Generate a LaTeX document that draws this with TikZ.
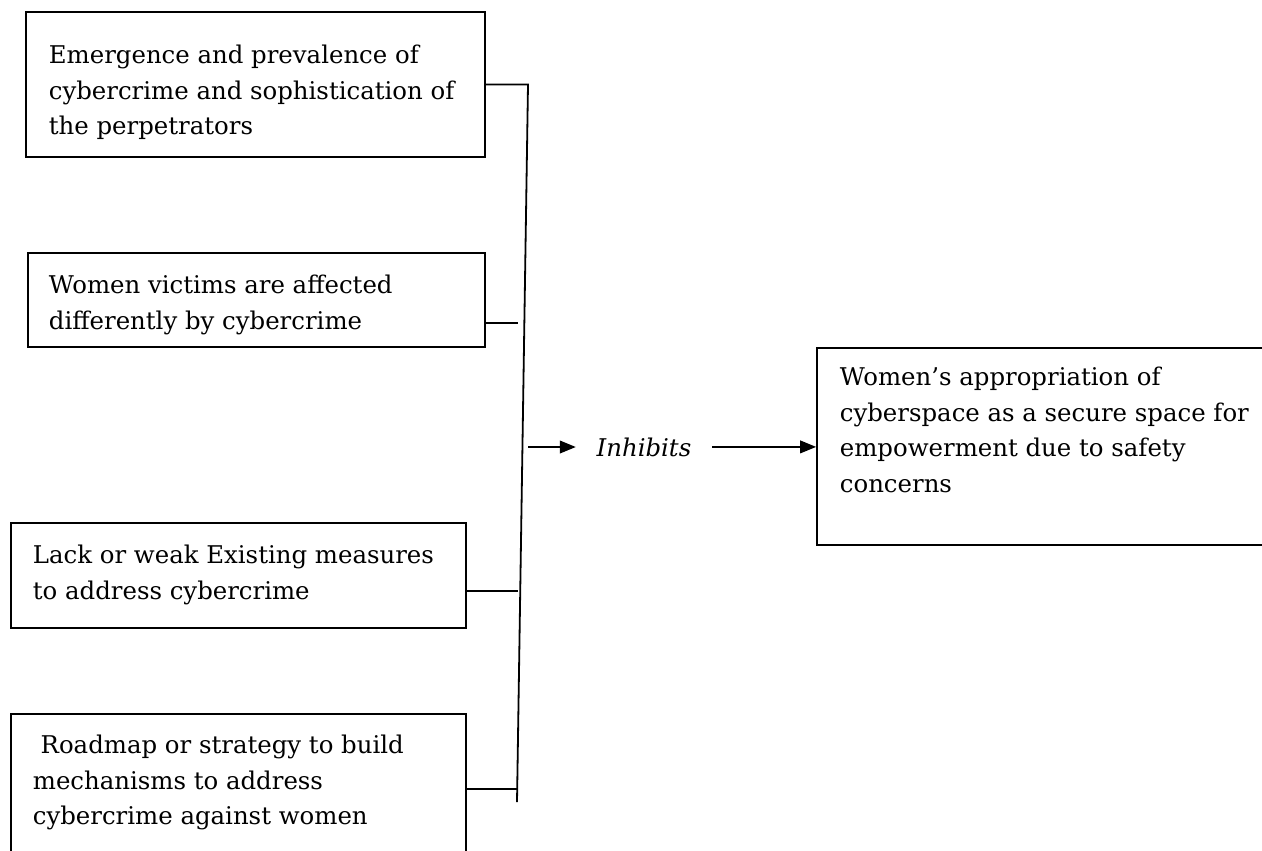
\documentclass[tikz,border=0pt]{standalone}
\usepackage{fontspec}
\setmainfont{DejaVu Serif}
\usetikzlibrary{arrows.meta}
\begin{document}
\begin{tikzpicture}[x=0.75pt,y=-0.75pt,
  line width=1.35pt,
  box/.style={draw, rectangle, inner sep=0pt},
  txt/.style={anchor=north west, inner sep=0pt, align=left, font=\fontsize{18.3pt}{26.6pt}\selectfont},
  arr/.style={-{Triangle[length=12pt,width=9.5pt]}}]
\useasboundingbox (0,0) rectangle (1262,850);
% boxes
\node[box, minimum width=344.25pt, minimum height=108.75pt] (b1) at (255.5,84.5) {};
\node[box, minimum width=342.75pt, minimum height=70.5pt] (b2) at (256.5,300) {};
\node[box, minimum width=341.25pt, minimum height=78.75pt] (b3) at (238.5,575.5) {};
\node[box, minimum width=341.25pt, minimum height=117pt] (b4) at (238.5,792) {};
\node[box, minimum width=347.25pt, minimum height=147.75pt] (rb) at (1048.5,446.5) {};
% texts
\node[txt] (t1) at (48,44.5) {Emergence and prevalence of\\cybercrime and sophistication of\\the perpetrators};
\node[txt] (t2) at (48,274.5) {Women victims are affected\\differently by cybercrime};
\node[txt] (t3) at (32,544.5) {Lack or weak Existing measures\\to address cybercrime};
\node[txt] (t4) at (32,734.5) {\ Roadmap or strategy to build\\mechanisms to address\\cybercrime against women};
\node[txt] (t5) at (839,366.5) {Women’s appropriation of\\cyberspace as a secure space for\\empowerment due to safety\\concerns};
\node[anchor=base, inner xsep=15pt, font=\fontsize{18.3pt}{26.6pt}\selectfont\itshape] (inh) at (644,456) {Inhibits};
% bus
\coordinate (busTop) at (528,84.5);
\coordinate (busBot) at (517,802);
\coordinate (c2) at (518,323);
\coordinate (c3) at (518,591);
\coordinate (c4) at (518,789);
\coordinate (a1) at (528,447);
\draw (b1.east) -- (busTop) -- (busBot);
\draw (b2.east |- c2) -- (c2);
\draw (b3.east |- c3) -- (c3);
\draw (b4.east |- c4) -- (c4);
\draw[arr] (a1) -- (a1 -| inh.west);
\draw[arr] (inh.east) -- (inh.east -| rb.west);
\end{tikzpicture}
\end{document}
